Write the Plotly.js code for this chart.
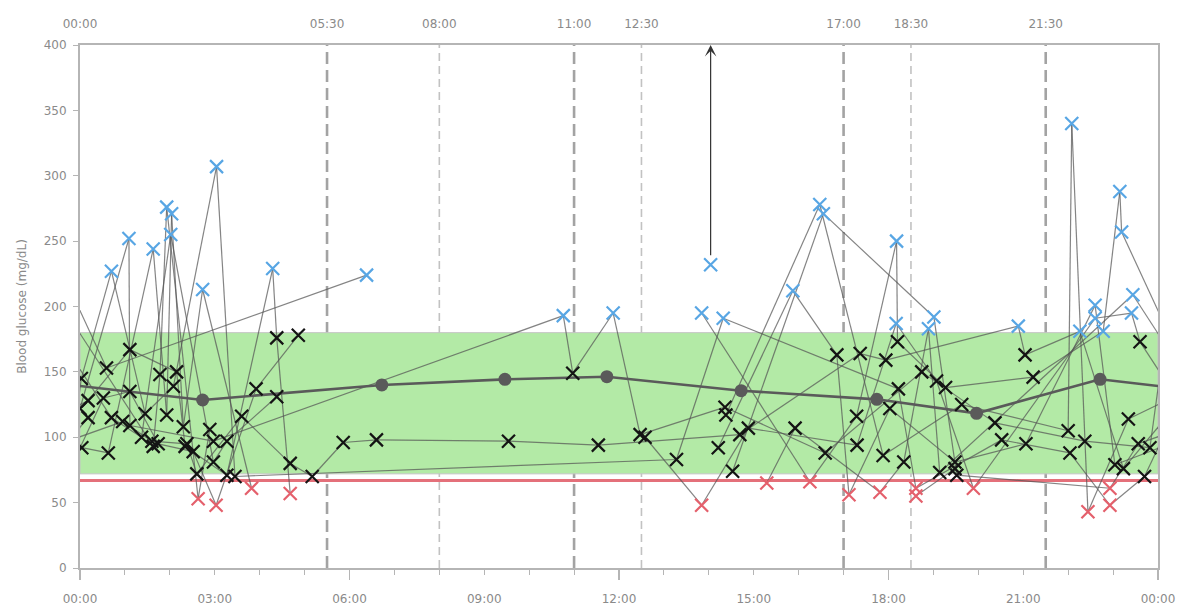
<!DOCTYPE html>
<html><head><meta charset="utf-8">
<script src="https://cdn.plot.ly/plotly-3.0.1.min.js"></script>
<style>html,body{margin:0;padding:0;background:#fff}#chart{width:1181px;height:615px}</style>
</head><body><div id="chart"></div>
<script>
// Readings, grouped in consecutive sessions (time of day in hours, glucose mg/dL).
// Within a session a decrease in time means the next day (line wraps over midnight).
const session1Time = [13.84,16.25,17.29,18.18,18.20,19.27,21.22,22.78,23.15,23.19,0.59,6.38];
const session1Glucose = [195,66,116,250,173,138,146,181,288,257,153,224];
const session2Time = [0.00,1.09,1.11,2.97,10.76,10.97,11.87,12.47,14.36,16.59,18.74,20.37,22.37,23.82,0.03,0.70,1.45,2.08,3.04,3.45,13.28,14.32,18.22,18.61,20.52,22.04,22.93,23.70,0.52,1.11,1.74,2.52,3.03,3.92,4.86];
const session2Glucose = [122,252,109,97,193,149,195,102,123,88,150,111,97,92,145,227,118,139,307,70,83,191,137,61,98,88,48,70,130,135,95,89,48,137,178];
const session3Time = [14.21,15.87,16.85,17.12,18.03,19.48,21.06,22.60,23.04,0.04,0.63,1.63,1.93,2.04,2.30,2.73,3.82];
const session3Glucose = [92,212,163,56,122,81,95,201,79,92,88,244,117,271,108,213,61];
const session4Time = [14.38,16.47,17.88,19.63,22.00,22.08,22.44,23.34,0.18,1.11,2.15,2.34,3.27,4.29,4.38,4.68];
const session4Glucose = [117,278,86,125,105,340,43,114,128,167,150,93,71,229,176,57];
const session5Time = [12.58,13.84,14.88,17.30,18.17,19.07,19.89,22.60,23.41,23.60,0.70,1.37,2.02,2.97,3.27,4.38];
const session5Glucose = [100,48,107,94,187,143,61,191,195,173,115,100,255,81,97,131];
const session6Time = [14.53,16.55,19.01,19.52,22.93,23.56,0.95,1.60,2.38,2.60,3.60,4.68,5.17,5.86,6.60,9.54,11.54,14.69,17.37,17.94,20.89,21.04,22.26,23.23,0.18];
const session6Glucose = [74,271,192,71,61,95,112,97,95,72,116,80,70,96,98,97,94,102,164,159,185,163,181,76,115];
const session7Time = [15.29,15.92,17.81,18.34,18.89,19.14,23.44,1.63,1.78,1.93,2.63,2.89];
const session7Glucose = [65,107,58,81,183,73,209,93,148,276,53,106];
const session8Time = [14.04];
const session8Glucose = [232];
const session9Time = [18.61,19.48];
const session9Glucose = [55,76];

// Mean profile
const meanTime = [2.73,6.72,9.46,11.73,14.72,17.74,19.96,22.71];
const meanGlucose = [128.5,140,144.3,146.3,135.6,129,118.3,144.3];

// Off-scale indicator (reading above the axis)
const offScaleTime = 14.04;
const offScaleFrom = 238;

// Ranges and thresholds
const targetLow = 72, targetHigh = 180, hypoLine = 67;
const highLimit = 180, lowLimit = 70;

// Meal / event times
const eventMajor = [5.5,11,17,21.5];
const eventMinor = [8,12.5,18.5];
const topTickVals = [0,5.5,8,11,12.5,17,18.5,21.5];
const topTickText = ['00:00','05:30','08:00','11:00','12:30','17:00','18:30','21:30'];
const bottomTickVals = [0,3,6,9,12,15,18,21,24];
const bottomTickText = ['00:00','03:00','06:00','09:00','12:00','15:00','18:00','21:00','00:00'];
const longTickVals = [0,6,12,18,24];
const yTicks = [0,50,100,150,200,250,300,350,400];

const sessions = [
  [session1Time,session1Glucose],[session2Time,session2Glucose],[session3Time,session3Glucose],
  [session4Time,session4Glucose],[session5Time,session5Glucose],[session6Time,session6Glucose],
  [session7Time,session7Glucose],[session8Time,session8Glucose],[session9Time,session9Glucose]
];

// Build connecting line segments (wrapping across midnight)
const lx = [], ly = [];
const px = [], py = [], pc = [];
const BLUE = '#58a6e4', RED = '#e4606c', BLACK = '#141414';
sessions.forEach(([T,G]) => {
  let shift = 0; const abs = [];
  T.forEach((t,i) => { if (i>0 && t < T[i-1]) shift += 24; abs.push(t+shift); });
  for (let i=0;i<T.length-1;i++){
    const a = abs[i], b = abs[i+1];
    const da = Math.floor(a/24), db = Math.floor(b/24);
    lx.push(a-24*da, b-24*da, null); ly.push(G[i], G[i+1], null);
    if (db !== da){ lx.push(a-24*db, b-24*db, null); ly.push(G[i], G[i+1], null); }
  }
  T.forEach((t,i) => {
    px.push(t); py.push(G[i]);
    pc.push(G[i] > highLimit ? BLUE : (G[i] < lowLimit ? RED : BLACK));
  });
});

const mx = [meanTime[meanTime.length-1]-24, ...meanTime, meanTime[0]+24];
const my = [meanGlucose[meanGlucose.length-1], ...meanGlucose, meanGlucose[0]];

const traces = [
  {x: lx, y: ly, mode:'lines', type:'scatter', line:{color:'rgba(85,85,85,0.72)', width:1.2}, hoverinfo:'skip', showlegend:false},
  {x: mx, y: my, mode:'lines+markers', type:'scatter', line:{color:'#5a5a5a', width:2.6},
   marker:{symbol:'circle', size:13, color:'#5a5a5a'}, showlegend:false},
  {x: px, y: py, mode:'markers', type:'scatter',
   marker:{symbol:'x-thin', size:13, color: pc, line:{width:2.2, color: pc}}, showlegend:false},
  {x: topTickVals, y: topTickVals.map(()=>null), xaxis:'x2', yaxis:'y', mode:'markers', type:'scatter', showlegend:false, hoverinfo:'skip'},
  {x: longTickVals, y: longTickVals.map(()=>null), xaxis:'x3', yaxis:'y', mode:'markers', type:'scatter', showlegend:false, hoverinfo:'skip'}
];

const shapes = [
  {type:'rect', xref:'x', yref:'y', x0:0, x1:24, y0:targetLow, y1:targetHigh, fillcolor:'#b3eaa6', line:{color:'#c4c4c4', width:1}, layer:'below'},
  {type:'line', xref:'x', yref:'y', x0:0, x1:24, y0:hypoLine, y1:hypoLine, line:{color:'#e4707a', width:3}, layer:'below'}
];
eventMajor.forEach(t => shapes.push({type:'line', xref:'x', yref:'paper', x0:t, x1:t, y0:0, y1:1, line:{color:'#a3a3a3', width:2.6, dash:'12px,6px'}, layer:'below'}));
eventMinor.forEach(t => shapes.push({type:'line', xref:'x', yref:'paper', x0:t, x1:t, y0:0, y1:1, line:{color:'#c2c2c2', width:1.6, dash:'8px,5px'}, layer:'below'}));

const fnt = {family:'DejaVu Sans, Verdana, sans-serif', size:12, color:'#8a8a8a'};
const axisLine = '#b5b5b5';

const layout = {
  width:1181, height:615,
  margin:{l:80, r:23, t:45, b:47},
  paper_bgcolor:'#fff', plot_bgcolor:'#fff',
  font: fnt,
  showlegend:false,
  xaxis:{range:[0,24], tickvals:bottomTickVals, ticktext:bottomTickText, ticks:'outside', ticklen:5, tickcolor:axisLine,
    minor:{dtick:1, tick0:0, ticks:'outside', ticklen:5, tickcolor:axisLine},
    showline:true, linecolor:axisLine, linewidth:2, mirror:true, showgrid:false, zeroline:false,
    ticklabelstandoff:14, tickfont:fnt, fixedrange:true},
  xaxis2:{range:[0,24], overlaying:'x', anchor:'y', side:'top', tickvals:topTickVals, ticktext:topTickText,
    ticks:'', showline:false, showgrid:false, zeroline:false, ticklabelstandoff:14, tickfont:fnt},
  xaxis3:{range:[0,24], overlaying:'x', anchor:'y', side:'bottom', tickvals:longTickVals, ticks:'outside', ticklen:11,
    tickcolor:axisLine, tickwidth:1.5, showticklabels:false, showline:false, showgrid:false, zeroline:false},
  yaxis:{range:[0,400], tickvals:yTicks, ticks:'outside', ticklen:5, tickcolor:axisLine,
    showline:true, linecolor:axisLine, linewidth:2, mirror:true, showgrid:false, zeroline:false,
    tickfont:fnt, ticklabelstandoff:4,
    title:{text:'Blood glucose (mg/dL)', font:{family:fnt.family, size:12, color:'#8a8a8a'}, standoff:14}},
  shapes: shapes,
  annotations:[{x:offScaleTime, y:400, xref:'x', yref:'y', ax:offScaleTime, ay:offScaleFrom, axref:'x', ayref:'y',
    text:'', showarrow:true, arrowhead:3, arrowsize:1.6, arrowwidth:1.2, arrowcolor:'#333'}]
};

Plotly.newPlot('chart', traces, layout, {displayModeBar:false, staticPlot:true});
</script>
</body></html>
